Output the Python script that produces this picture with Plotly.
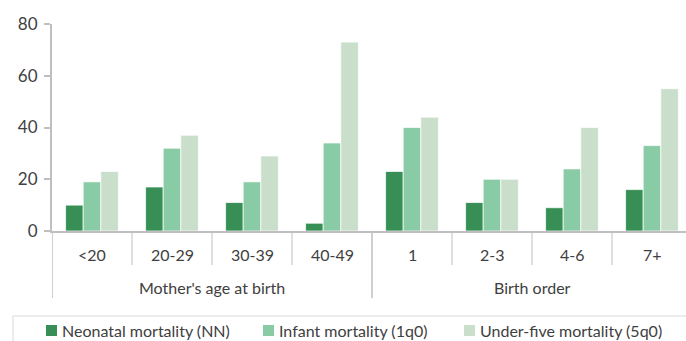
import plotly.graph_objects as go

# Categories along the x axis, two groups of four
categories = ["<20", "20-29", "30-39", "40-49", "1", "2-3", "4-6", "7+"]
group_labels = ["Mother's age at birth", "Birth order"]
group_sizes = [4, 4]

# Mortality rates per 1,000 live births
neonatal = [10, 17, 11, 3, 23, 11, 9, 16]
infant = [19, 32, 19, 34, 40, 20, 24, 33]
under_five = [23, 37, 29, 73, 44, 20, 40, 55]

series_names = ["Neonatal mortality (NN)", "Infant mortality (1q0)", "Under-five mortality (5q0)"]
series_values = [neonatal, infant, under_five]
series_colors = ["#378F56", "#89CBA4", "#C9DFCB"]

y_ticks = [0, 20, 40, 60, 80]

W, H = 686, 341
L, R, T, B = 52, 0, 24, 110
PW, PH = W - L - R, H - T - B
FONT = "Lato"
FS = 16
TEXT = "#404040"
GRID = "#BFBFBF"


def px_x(px):
    return (px - L) / PW


def px_y(py):
    return (H - B - py) / PH


x_pos = list(range(len(categories)))

fig = go.Figure()
for name, vals, col in zip(series_names, series_values, series_colors):
    fig.add_trace(go.Bar(
        x=x_pos, y=vals, name=name,
        marker=dict(color=col, line=dict(color="rgba(255,255,255,0.7)", width=1)),
        showlegend=False,
    ))

shapes = []
annotations = []

# Category labels and short separators under the axis
for i, c in enumerate(categories):
    annotations.append(dict(x=i, y=px_y(254), xref="x", yref="paper", text=c,
                            showarrow=False, font=dict(size=FS, color=TEXT, family=FONT),
                            xanchor="center", yanchor="middle"))
start = 0
for gi, (g, n) in enumerate(zip(group_labels, group_sizes)):
    # group boundary line (long)
    shapes.append(dict(type="line", xref="x", yref="paper", x0=start - 0.5, x1=start - 0.5,
                       y0=0, y1=px_y(298), line=dict(color=GRID, width=1.5)))
    for k in range(1, n):
        shapes.append(dict(type="line", xref="x", yref="paper", x0=start + k - 0.5,
                           x1=start + k - 0.5, y0=0, y1=px_y(265),
                           line=dict(color=GRID, width=1)))
    annotations.append(dict(x=start + (n - 1) / 2, y=px_y(287), xref="x", yref="paper", text=g,
                            showarrow=False, font=dict(size=FS, color=TEXT, family=FONT),
                            xanchor="center", yanchor="middle"))
    start += n
shapes.append(dict(type="line", xref="x", yref="paper", x0=start - 0.5, x1=start - 0.5,
                   y0=0, y1=px_y(298), line=dict(color=GRID, width=1.5)))

# Legend box with swatches
shapes.append(dict(type="rect", xref="paper", yref="paper", x0=px_x(13), x1=px_x(700),
                   y0=px_y(316), y1=px_y(360), line=dict(color="#D9D9D9", width=1),
                   fillcolor="rgba(0,0,0,0)"))
legend_x = [46, 263, 464]
for lx, name, col in zip(legend_x, series_names, series_colors):
    shapes.append(dict(type="rect", xref="paper", yref="paper", x0=px_x(lx), x1=px_x(lx + 11),
                       y0=px_y(336), y1=px_y(325), fillcolor=col, line=dict(width=0)))
    annotations.append(dict(x=px_x(lx + 14), y=px_y(330.5), xref="paper", yref="paper",
                            text=name, showarrow=False, xanchor="left", yanchor="middle",
                            font=dict(size=FS, color=TEXT, family=FONT)))

fig.update_layout(
    width=W, height=H,
    margin=dict(l=L, r=R, t=T, b=B, pad=0),
    paper_bgcolor="white", plot_bgcolor="white",
    barmode="group", bargap=0.34, bargroupgap=0,
    font=dict(family=FONT, size=FS, color=TEXT),
    shapes=shapes, annotations=annotations,
    xaxis=dict(range=[-0.5, -0.5 + PW / 80], showticklabels=False, ticks="",
               showgrid=False, zeroline=False, showline=True, linecolor=GRID, linewidth=2,
               fixedrange=True),
    yaxis=dict(range=[0, 80], tickvals=y_ticks, showgrid=False, zeroline=False,
               showline=True, linecolor=GRID, linewidth=2, ticks="outside", ticklen=6,
               tickcolor=GRID, tickwidth=1.5, ticklabelstandoff=3,
               tickfont=dict(size=17, color=TEXT, family=FONT),
               fixedrange=True),
)

fig.write_html("out.html", config={"displayModeBar": False})
